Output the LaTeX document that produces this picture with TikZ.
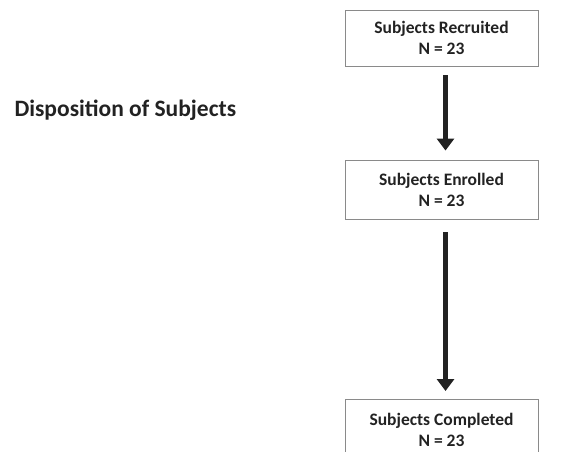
\documentclass[tikz,border=0pt]{standalone}
\usepackage{fontspec}
\setmainfont{Carlito}
\usetikzlibrary{arrows.meta}
\definecolor{boxline}{HTML}{8A8A8A}
\definecolor{inktext}{HTML}{222222}

\begin{document}
\begin{tikzpicture}[x=1pt, y=-1pt, >=Stealth,
    box/.style={draw=boxline, line width=0.9pt, minimum width=193pt, align=center,
        text=inktext, font=\fontsize{17.5}{21}\selectfont\bfseries, inner sep=0pt},
    flow/.style={line width=5pt, color=inktext, -{Triangle[width=17pt, length=12pt]}}]
    \useasboundingbox (0,0) rectangle (572,451);
    \clip (0,0) rectangle (572,451);

    % Title
    \node[font=\fontsize{23.5}{27}\selectfont\bfseries, text=inktext, anchor=west] (title) at (11,110) {Disposition of Subjects};

    % Boxes
    \node[box, minimum height=56pt] (recruited) at (441.5,38) {Subjects Recruited\\[0pt] N = 23};
    \node[box, minimum height=59pt] (enrolled) at (441.5,189.5) {Subjects Enrolled\\[0pt] N = 23};
    \node[box, minimum height=60pt, anchor=north] (completed) at (441.5,399) {Subjects Completed\\[0pt] N = 23};

    % Arrows
    \draw[flow] ([xshift=4pt, yshift=-9pt]recruited.south) -- ([xshift=4pt, yshift=9pt]enrolled.north);
    \draw[flow] ([xshift=4pt, yshift=-13pt]enrolled.south) -- ([xshift=4pt, yshift=8pt]completed.north);
\end{tikzpicture}
\end{document}
